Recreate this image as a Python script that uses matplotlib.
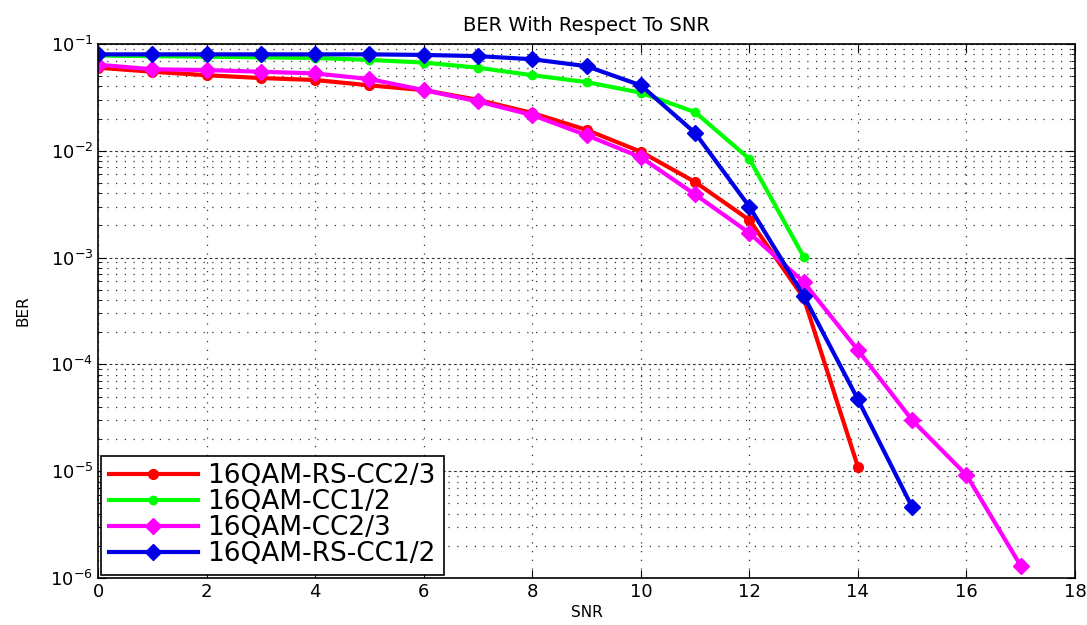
import matplotlib
matplotlib.use("Agg")
import matplotlib.pyplot as plt
from matplotlib.ticker import LogLocator, NullFormatter, MultipleLocator

plt.rcParams['font.family'] = ['DejaVu Sans']

# SNR points and BER
snr_rs_cc23 = list(range(0, 15))
ber_rs_cc23 = [0.060, 0.055, 0.051, 0.048, 0.046, 0.041, 0.037, 0.030, 0.0226,
               0.0157, 0.0098, 0.0051, 0.00225, 0.00042, 1.1e-5]

snr_cc12 = list(range(0, 14))
ber_cc12 = [0.078, 0.077, 0.076, 0.075, 0.074, 0.071, 0.067, 0.060, 0.051,
            0.044, 0.035, 0.023, 0.0084, 0.00102]

snr_cc23 = list(range(0, 18))
ber_cc23 = [0.064, 0.058, 0.057, 0.055, 0.053, 0.047, 0.037, 0.029, 0.0216,
            0.014, 0.0087, 0.0039, 0.0017, 0.00059, 1.36e-4, 3.0e-5, 9.2e-6, 1.3e-6]

snr_rs_cc12 = list(range(0, 16))
ber_rs_cc12 = [0.080, 0.080, 0.080, 0.080, 0.080, 0.080, 0.079, 0.077, 0.072,
               0.062, 0.041, 0.0147, 0.0030, 0.00044, 4.7e-5, 4.6e-6]

labels = ['16QAM-RS-CC2/3', '16QAM-CC1/2', '16QAM-CC2/3', '16QAM-RS-CC1/2']

fig = plt.figure(figsize=(10.87, 6.25), dpi=100)
ax = fig.add_axes([0.0902, 0.0752, 0.8988, 0.8544])

ax.semilogy(snr_rs_cc23, ber_rs_cc23, '-o', color='#ff0000', lw=3, ms=7, label=labels[0])
ax.semilogy(snr_cc12, ber_cc12, '-o', color='#00ff00', lw=3, ms=6, label=labels[1])
ax.semilogy(snr_cc23, ber_cc23, '-D', color='#ff00ff', lw=3, ms=8, label=labels[2])
ax.semilogy(snr_rs_cc12, ber_rs_cc12, '-D', color='#0000e6', lw=3, ms=8, label=labels[3])

ax.set_xlim(0, 18)
ax.set_ylim(1e-6, 1e-1)
ax.xaxis.set_major_locator(MultipleLocator(2))
ax.yaxis.set_major_locator(LogLocator(base=10, numticks=10))
ax.yaxis.set_minor_locator(LogLocator(base=10, subs=range(2, 10), numticks=20))
ax.yaxis.set_minor_formatter(NullFormatter())

# MATLAB-like dotted grid; decade lines look dashed in the original
ax.grid(True, which='major', axis='x', linestyle=(0, (1, 6)), color='#333333', lw=0.9)
ax.grid(True, which='major', axis='y', linestyle=(0, (2.5, 2.5)), color='#333333', lw=0.8)
ax.grid(True, which='minor', axis='y', linestyle=(0, (1, 6)), color='#333333', lw=0.9)

ax.tick_params(which='both', direction='in', top=True, right=True, labelsize=13)
ax.tick_params(which='major', length=6)
ax.tick_params(which='minor', length=3)
for s in ax.spines.values():
    s.set_linewidth(1.2)

ax.set_title('BER With Respect To SNR', fontsize=14, pad=9)
ax.set_xlabel('SNR', fontsize=11, labelpad=3)
ax.set_ylabel('BER', fontsize=11, labelpad=14)

leg = ax.legend(loc='lower left', fontsize=19, fancybox=False, framealpha=1,
                edgecolor='black', handlelength=3.4, handletextpad=0.35,
                labelspacing=0.0, borderpad=0.3, borderaxespad=0.1)
leg.get_frame().set_linewidth(1.2)

fig.savefig('out.png', dpi=100)
